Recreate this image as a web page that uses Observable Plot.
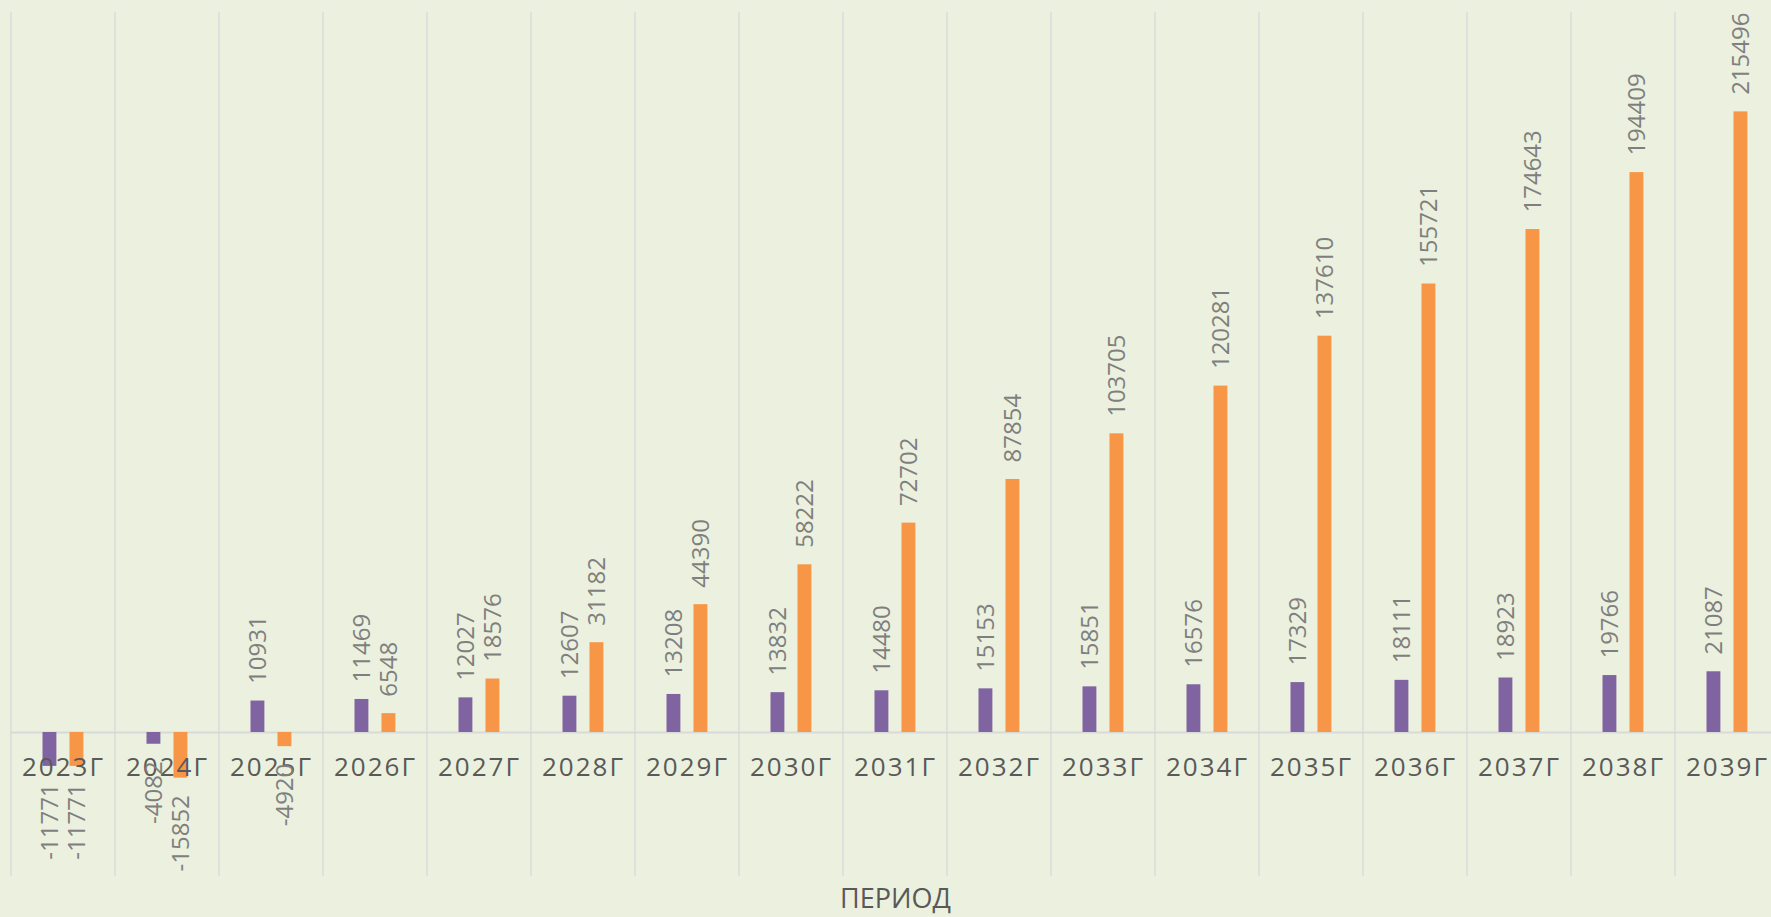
<!DOCTYPE html>
<html>
<head>
<meta charset="utf-8">
<script src="https://cdn.jsdelivr.net/npm/d3@7"></script>
<script src="https://cdn.jsdelivr.net/npm/@observablehq/plot@0.6"></script>
<style>
  html, body { margin: 0; padding: 0; background: #EBF1DE; overflow: hidden; }
  #wrap { width: 1771px; height: 917px; overflow: hidden; position: relative; }
  #chart { width: 1781px; }
  #chart svg { max-width: none !important; display: block; }
  #title { position: absolute; left: 0; top: 882px; width: 1781px; padding-left: 10px; box-sizing: border-box;
           text-align: center; font-family: "Open Sans", sans-serif; font-size: 27px; line-height: 32px; color: #595959; }
  .yr text { letter-spacing: 2px; }
</style>
</head>
<body>
<div id="wrap"><div id="chart"></div><div id="title">ПЕРИОД</div></div>
<script>
const years = ["2023", "2024", "2025", "2026", "2027", "2028", "2029", "2030", "2031", "2032", "2033", "2034", "2035", "2036", "2037", "2038", "2039"];
const yearSuffix = "Г";
const seriesPurple = [-11771, -4082, 10931, 11469, 12027, 12607, 13208, 13832, 14480, 15153, 15851, 16576, 17329, 18111, 18923, 19766, 21087];
const seriesOrange = [-11771, -15852, -4920, 6548, 18576, 31182, 44390, 58222, 72702, 87854, 103705, 120281, 137610, 155721, 174643, 194409, 215496];
const yDomain = [-50000, 250000];

const purple = years.map((y, i) => ({year: y, value: seriesPurple[i]}));
const orange = years.map((y, i) => ({year: y, value: seriesOrange[i]}));

const W = 1781, H = 885;
const bw = (W - 10 - 1) / years.length;

const labelStyle = {fontSize: 24, fontFamily: "Open Sans", fill: "#7f7f7f", rotate: -90, lineAnchor: "middle"};

const chart = Plot.plot({
  width: W,
  height: H,
  marginLeft: 10,
  marginRight: 1,
  marginTop: 12,
  marginBottom: 9,
  style: {background: "transparent", fontFamily: "Open Sans", maxWidth: "none"},
  x: {domain: years, padding: 0, axis: null},
  y: {domain: yDomain, axis: null},
  marks: [
    Plot.barY(years, {x: d => d, y1: yDomain[0], y2: yDomain[1], fill: "#d9d9d9", insetLeft: -0.75, insetRight: bw - 0.75}),
    Plot.ruleY([0], {stroke: "#d9d9d9", strokeWidth: 2}),
    Plot.barY(purple, {x: "year", y: "value", fill: "#8064A2", insetLeft: 31.5, insetRight: bw - 45.5}),
    Plot.barY(orange, {x: "year", y: "value", fill: "#F79646", insetLeft: 58.5, insetRight: bw - 72.5}),
    Plot.text(years, {x: d => d, y: 0, dy: 35, text: d => d + yearSuffix, fontSize: 26, fontFamily: "Open Sans", fill: "#595959", className: "yr"}),
    Plot.text(purple.filter(d => d.value >= 0), {x: "year", y: "value", text: d => String(d.value), textAnchor: "start", dx: -13, dy: -17, ...labelStyle}),
    Plot.text(purple.filter(d => d.value < 0), {x: "year", y: "value", text: d => String(d.value), textAnchor: "end", dx: -13, dy: 17, ...labelStyle}),
    Plot.text(orange.filter(d => d.value >= 0), {x: "year", y: "value", text: d => String(d.value), textAnchor: "start", dx: 14, dy: -17, ...labelStyle}),
    Plot.text(orange.filter(d => d.value < 0), {x: "year", y: "value", text: d => String(d.value), textAnchor: "end", dx: 14, dy: 17, ...labelStyle})
  ]
});
document.getElementById("chart").appendChild(chart);
</script>
</body>
</html>
